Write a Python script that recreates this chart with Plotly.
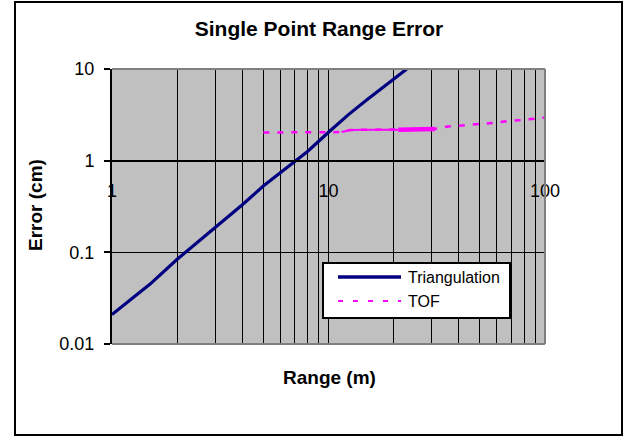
import plotly.graph_objects as go

# ---- data ----
tri_range = [1, 1.5, 2, 3, 4, 5, 6, 7, 8, 10, 12, 12.4, 15, 18, 20, 23]
tri_error = [0.021, 0.045, 0.084, 0.185, 0.33, 0.53, 0.74, 0.98, 1.26, 2.04, 2.98, 3.2, 4.6, 6.4, 7.9, 10]

tof_range = [5, 6, 8, 10, 11.5, 12.6, 15, 18, 21, 25, 31, 35, 40, 48, 58, 68, 79, 100]
tof_error = [2.03, 2.03, 2.03, 2.04, 2.05, 2.16, 2.17, 2.17, 2.18, 2.2, 2.22, 2.35, 2.41, 2.51, 2.58, 2.71, 2.78, 2.95]

x_tickvals = [1, 2, 3, 4, 5, 6, 7, 8, 9, 10, 20, 30, 40, 50, 60, 70, 80, 90, 100]
x_ticktext = ["1", "", "", "", "", "", "", "", "", "10", "", "", "", "", "", "", "", "", "100"]
y_tickvals = [0.01, 0.1, 1, 10]
y_ticktext = ["0.01", "0.1", "1", "10"]

FONT = "Liberation Sans, Arial, sans-serif"
NAVY = "#000080"
MAGENTA = "#FF00FF"
GRAY = "#808080"

fig = go.Figure()

fig.add_trace(go.Scatter(x=tri_range, y=tri_error, mode="lines", name="Triangulation",
                         line=dict(color=NAVY, width=3.2), showlegend=False))
fig.add_trace(go.Scatter(x=tof_range, y=tof_error, mode="lines", name="TOF",
                         line=dict(color=MAGENTA, width=2.5, dash="6px,8px"), showlegend=False))
# dense-point stretches that render solid in the original
thin = [i for i, r in enumerate(tof_range) if 11.5 <= r <= 21]
thick = [i for i, r in enumerate(tof_range) if 21 <= r <= 31]
fig.add_trace(go.Scatter(x=[tof_range[i] for i in thin], y=[tof_error[i] for i in thin], mode="lines",
                         line=dict(color=MAGENTA, width=2), showlegend=False, hoverinfo="skip"))
fig.add_trace(go.Scatter(x=[tof_range[i] for i in thick], y=[tof_error[i] for i in thick], mode="lines",
                         line=dict(color=MAGENTA, width=4.5), showlegend=False, hoverinfo="skip"))

L, R, T, B = 112, 86, 69, 96
W, H = 631, 440
pw, ph = W - L - R, H - T - B

def px(x):
    return (x - L) / pw

def py(y):
    return (H - B - y) / ph

fig.update_layout(
    width=W, height=H, autosize=False,
    margin=dict(l=L, r=R, t=T, b=B, pad=0),
    paper_bgcolor="white", plot_bgcolor="#C0C0C0",
    font=dict(family=FONT, color="black", size=18),
    title=dict(text="Single Point Range Error", x=319 / W, xref="container", xanchor="center",
               y=1 - 29 / H, yref="container", yanchor="middle",
               font=dict(family=FONT, size=21, color="black", weight="bold")),
    xaxis=dict(type="log", range=[0, 2], tickvals=x_tickvals, ticktext=x_ticktext,
               showgrid=True, gridcolor="black", gridwidth=1,
               showline=True, linecolor="black", linewidth=2,
               anchor="free", position=2 / 3, ticks="", ticklabelstandoff=14,
               tickfont=dict(size=18), zeroline=False),
    yaxis=dict(type="log", range=[-2, 1], tickvals=y_tickvals, ticktext=y_ticktext,
               showgrid=True, gridcolor="black", gridwidth=1,
               showline=True, linecolor="black", linewidth=2,
               ticks="outside", ticklen=6, tickwidth=2, tickcolor="black",
               ticklabelstandoff=6, tickfont=dict(size=18), zeroline=False),
    showlegend=False,
)

shapes = []
# gray plot-area border (top, right, bottom)
shapes.append(dict(type="line", xref="paper", yref="paper", x0=0, x1=1, y0=1, y1=1, line=dict(color=GRAY, width=2), layer="above"))
shapes.append(dict(type="line", xref="paper", yref="paper", x0=1, x1=1, y0=0, y1=1, line=dict(color=GRAY, width=2), layer="above"))
shapes.append(dict(type="line", xref="paper", yref="paper", x0=0, x1=1, y0=0, y1=0, line=dict(color=GRAY, width=2), layer="above"))
# outer chart border
shapes.append(dict(type="rect", xref="paper", yref="paper", x0=px(15), x1=px(622), y0=py(435), y1=py(2),
                   line=dict(color="black", width=2), fillcolor="rgba(0,0,0,0)", layer="above"))
# legend box
shapes.append(dict(type="rect", xref="paper", yref="paper", x0=px(323), x1=px(510), y0=py(318), y1=py(263),
                   line=dict(color="black", width=2), fillcolor="white", layer="above"))
shapes.append(dict(type="line", xref="paper", yref="paper", x0=px(338), x1=px(401), y0=py(277), y1=py(277),
                   line=dict(color=NAVY, width=3.5), layer="above"))
shapes.append(dict(type="line", xref="paper", yref="paper", x0=px(338), x1=px(401), y0=py(301), y1=py(301),
                   line=dict(color=MAGENTA, width=2, dash="5px,10px"), layer="above"))
fig.update_layout(shapes=shapes)

annotations = [
    dict(text="Range (m)", xref="paper", yref="paper", x=px(329), y=py(377), xanchor="center", yanchor="middle",
         showarrow=False, font=dict(family=FONT, size=19, color="black", weight="bold")),
    dict(text="Error (cm)", xref="paper", yref="paper", x=px(35), y=py(205), xanchor="center", yanchor="middle",
         textangle=-90, showarrow=False, font=dict(family=FONT, size=19, color="black", weight="bold")),
    dict(text="Triangulation", xref="paper", yref="paper", x=px(406), y=py(277), xanchor="left", yanchor="middle",
         showarrow=False, font=dict(family=FONT, size=16, color="black")),
    dict(text="TOF", xref="paper", yref="paper", x=px(406), y=py(301), xanchor="left", yanchor="middle",
         showarrow=False, font=dict(family=FONT, size=16, color="black")),
]
fig.update_layout(annotations=annotations)

fig.write_html("out.html", config={"displayModeBar": False},
               post_script="document.body.style.margin='0';document.body.style.overflow='hidden';")
